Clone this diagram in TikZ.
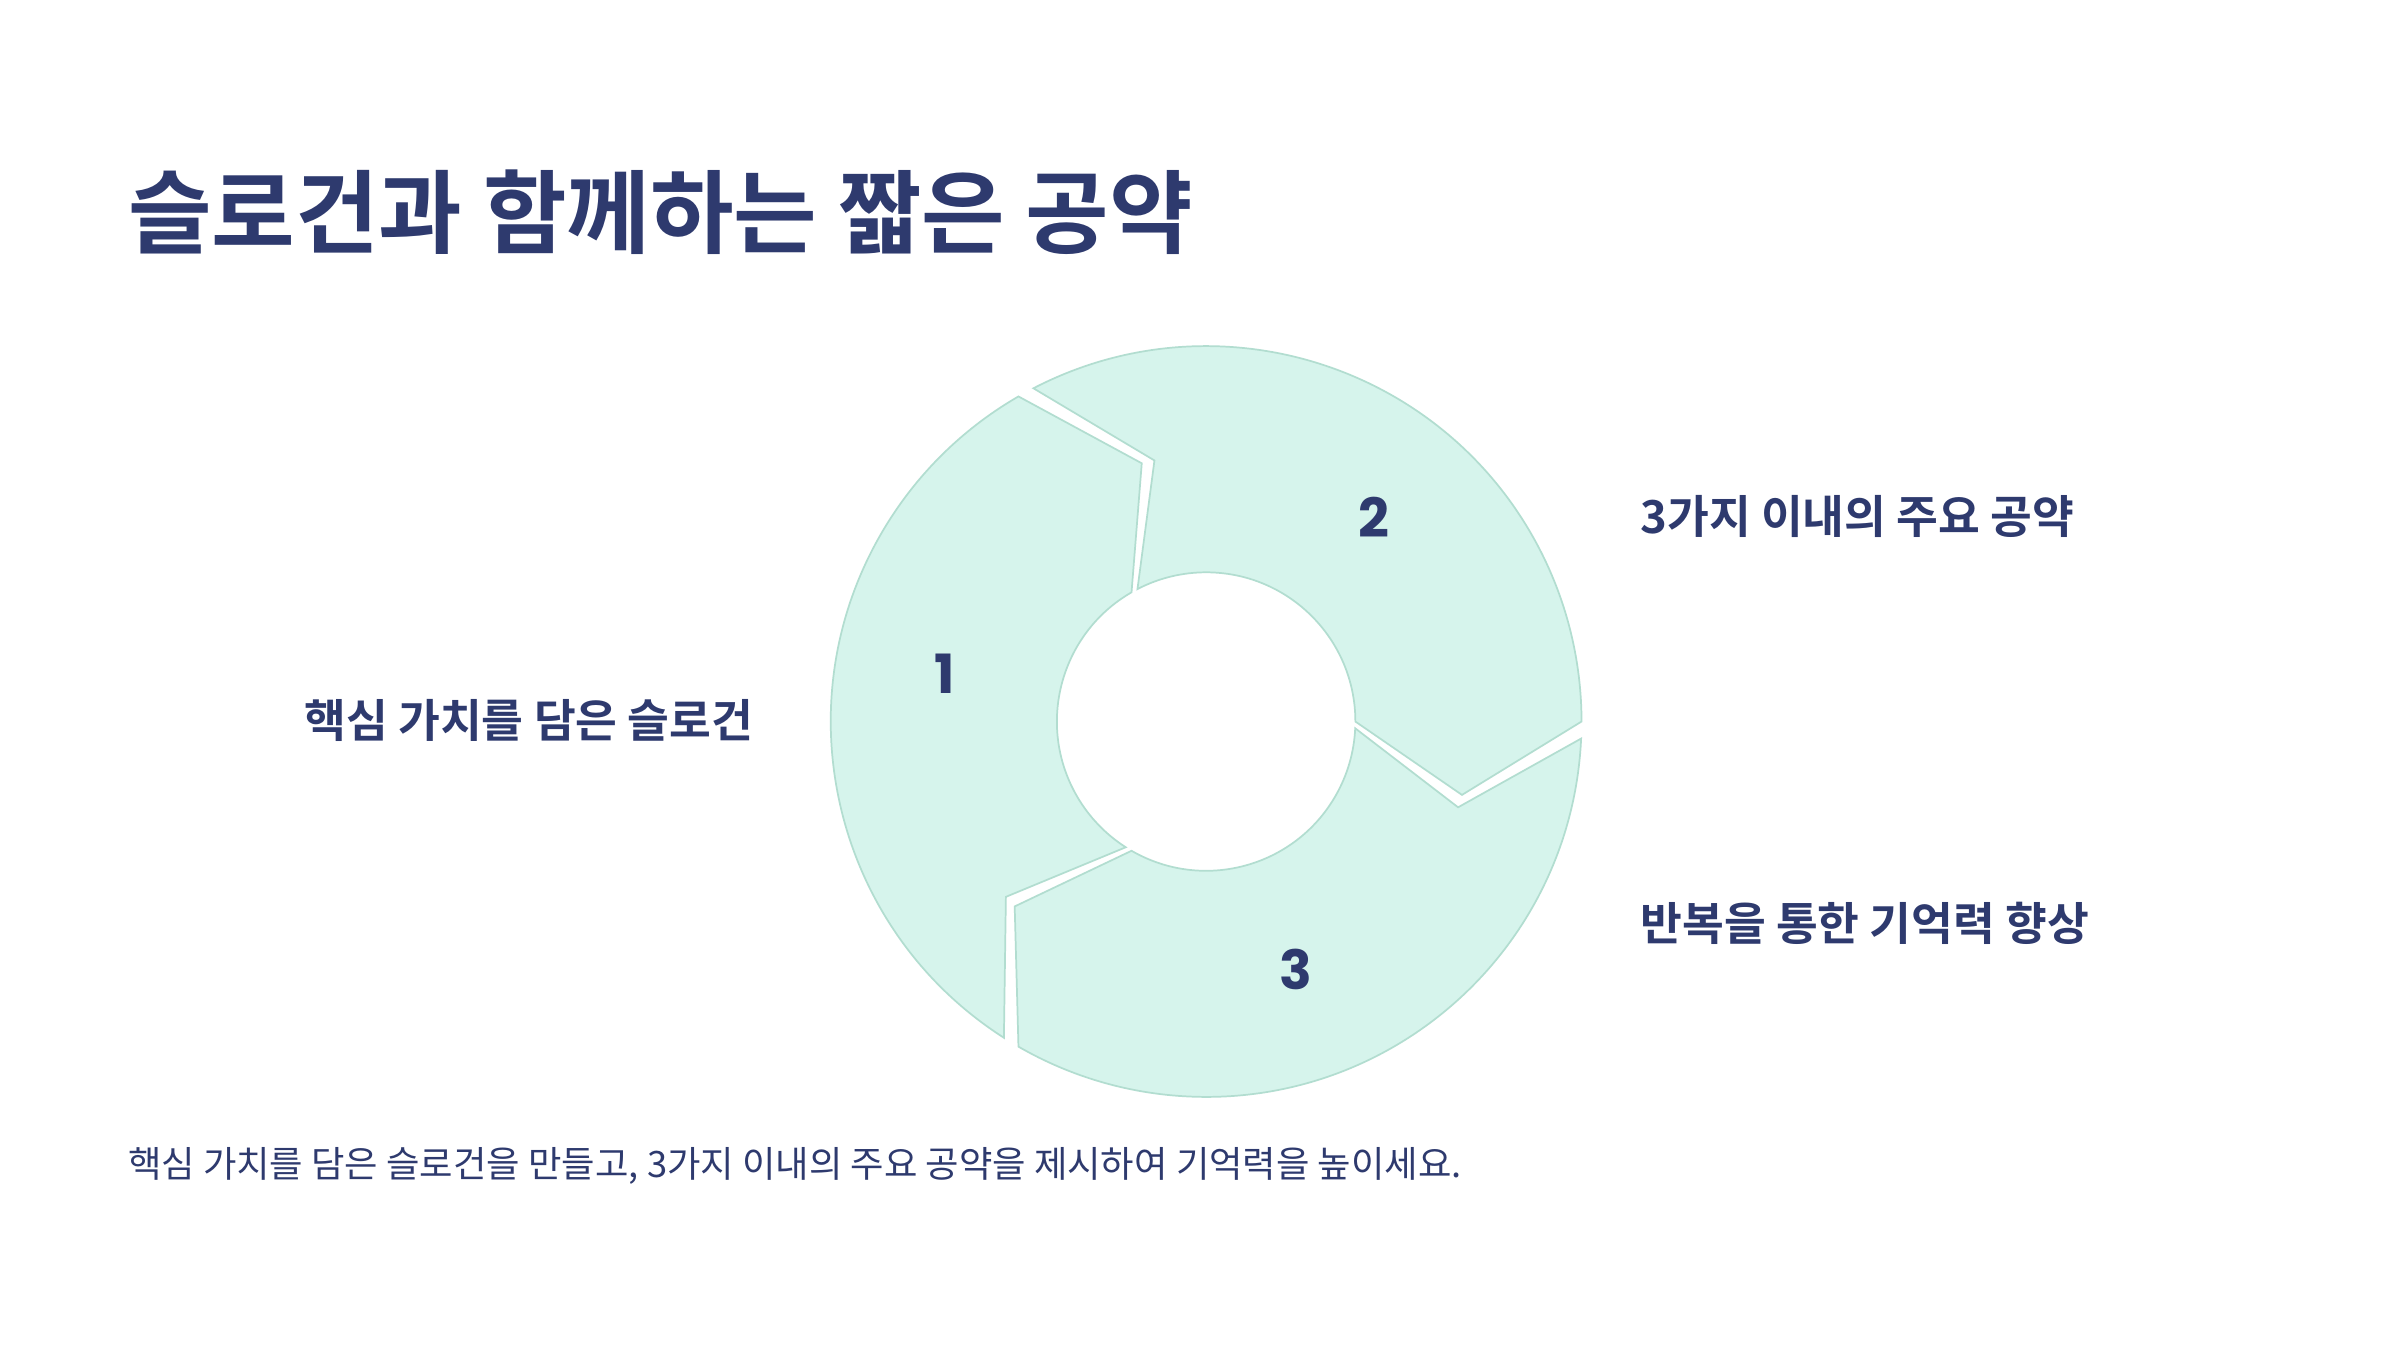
\documentclass[tikz,border=0pt]{standalone}
\usepackage{fontspec}
\newfontfamily\kr{Noto Sans CJK KR}
\newfontfamily\krb{Noto Sans CJK KR Bold}
\newfontfamily\pop{Poppins}
\definecolor{navy}{HTML}{2E3A6E}
\definecolor{segfill}{HTML}{D6F4EC}
\definecolor{segline}{HTML}{B2DDD0}
\begin{document}
\begin{tikzpicture}[x=0.025cm,y=0.025cm,
  seg/.style={fill=segfill,draw=segline,line width=0.8pt,line join=miter},
  num/.style={text=navy,font=\pop\bfseries\fontsize{25}{28}\selectfont},
  lab/.style={text=navy,font=\krb\fontsize{21}{24}\selectfont},
]
\useasboundingbox[fill=white] (-784,-408) rectangle (776,469);
\foreach \a/\n in {120/s2,0/s3,240/s1}{
  \pgfmathsetmacro{\s}{\a-2.6}
  \pgfmathsetmacro{\e}{\a-120}
  \pgfmathsetmacro{\t}{\a-136}
  \pgfmathsetmacro{\k}{\a-18.8}
  \draw[seg] (\s:244) arc[start angle=\s,end angle=\e,radius=244] -- (\t:173) -- (\e:97)
     arc[start angle=\e,end angle=\s,radius=97] -- (\k:173) -- cycle;
}
\node[num] (n1) at (-170,31) {1};
\node[num] (n2) at (109,133) {2};
\node[num] (n3) at (58,-161) {3};
\node[text=navy,font=\krb\fontsize{42}{46}\selectfont,anchor=west,inner sep=0] (title) at (-701,331) {슬로건과 함께하는 짧은 공약};
\node[lab,anchor=west,inner sep=0] (l2) at (282,133) {3가지 이내의 주요 공약};
\node[lab,anchor=west,inner sep=0] (l3) at (282,-131) {반복을 통한 기억력 향상};
\node[lab,anchor=east,inner sep=0] (l1) at (-294,1) {핵심 가치를 담은 슬로건};
\node[text=navy,font=\kr\fontsize{16.8}{19}\selectfont,anchor=west,inner sep=0] (foot) at (-701,-289) {핵심 가치를 담은 슬로건을 만들고, 3가지 이내의 주요 공약을 제시하여 기억력을 높이세요.};
\end{tikzpicture}
\end{document}
